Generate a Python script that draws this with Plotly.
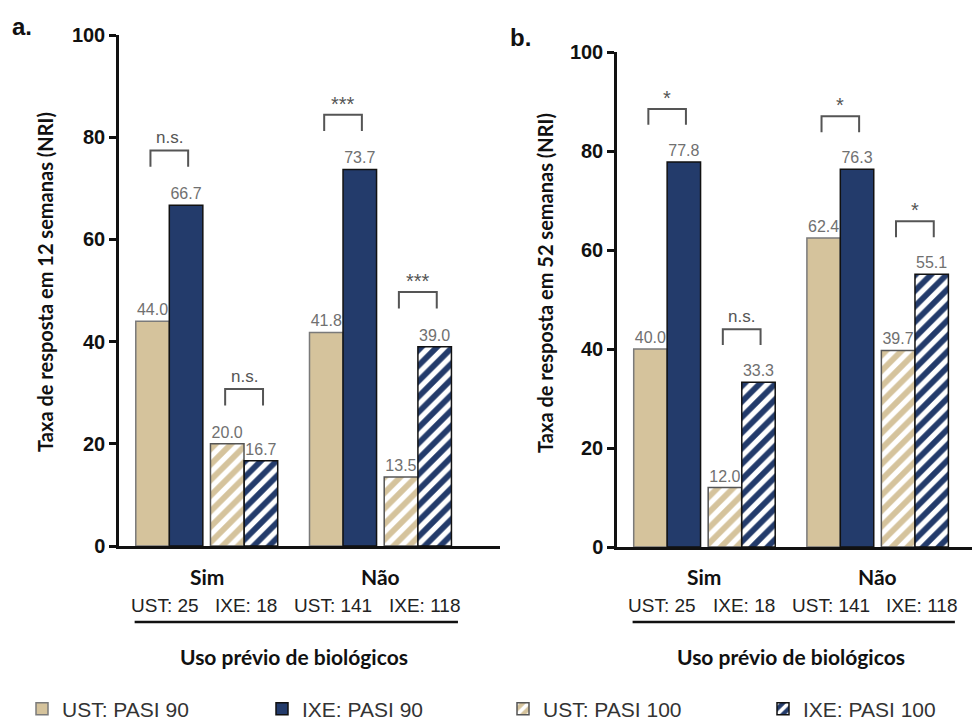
import plotly.graph_objects as go

# ---------------- data ----------------
groups = ["Sim", "Não"]
group_n = [("UST: 25", "IXE: 18"), ("UST: 141", "IXE: 118")]
series = ["UST: PASI 90", "IXE: PASI 90", "UST: PASI 100", "IXE: PASI 100"]

# panel a: 12 weeks
a_ust90 = [44.0, 41.8]
a_ixe90 = [66.7, 73.7]
a_ust100 = [20.0, 13.5]
a_ixe100 = [16.7, 39.0]
a_sig90 = ["n.s.", "***"]
a_sig100 = ["n.s.", "***"]

# panel b: 52 weeks
b_ust90 = [40.0, 62.4]
b_ixe90 = [77.8, 76.3]
b_ust100 = [12.0, 39.7]
b_ixe100 = [33.3, 55.1]
b_sig90 = ["*", "*"]
b_sig100 = ["n.s.", "*"]

y_ticks = [0, 20, 40, 60, 80, 100]

# ---------------- style ----------------
W, H = 980, 724
OFF = 8  # page body margin offset
TAN = "#D5C39C"
NAVY = "#233B6B"
VAL_COL = "#707070"
SIG_COL = "#555555"
offsets = [-0.312, -0.119, 0.118, 0.312]
bar_w = 0.193


def px(x):
    return (x - OFF) / W


def py(y):
    return 1 - (y - OFF) / H


fig = go.Figure()

pat = dict(shape="/", fgcolor="white", fgopacity=1, fillmode="overlay", size=11, solidity=0.47)
styles = [
    dict(color=TAN, line=dict(color="#7a7a7a", width=1.5)),
    dict(color=NAVY, line=dict(color="#111111", width=1.5)),
    dict(color=TAN, line=dict(color="#555555", width=1.5), pattern=pat),
    dict(color=NAVY, line=dict(color="#111111", width=1.5), pattern=pat),
]
legend_names = ["legend", "legend2", "legend3", "legend4"]

panels = [
    ("x", "y", [a_ust90, a_ixe90, a_ust100, a_ixe100], [a_sig90, a_sig100]),
    ("x2", "y2", [b_ust90, b_ixe90, b_ust100, b_ixe100], [b_sig90, b_sig100]),
]

annotations = []
shapes = []

for p, (xr, yr, vals, sigs) in enumerate(panels):
    for s in range(4):
        fig.add_trace(go.Bar(
            x=[g + offsets[s] for g in range(len(groups))],
            y=vals[s],
            width=bar_w,
            name=series[s],
            marker=styles[s],
            text=[f"{v:.1f}" for v in vals[s]],
            textposition="outside",
            textfont=dict(family="Liberation Sans, Arial", size=16, color=VAL_COL),
            constraintext="none",
            cliponaxis=False,
            xaxis=xr, yaxis=yr,
            legend=legend_names[s],
            showlegend=(p == 0),
        ))
    # significance brackets
    for k, (i0, i1) in enumerate([(0, 1), (2, 3)]):
        for g in range(len(groups)):
            top = max(vals[i0][g], vals[i1][g]) + 10.7
            xl = g + offsets[i0] - 0.012
            xh = g + offsets[i1] + 0.012
            shapes.append(dict(
                type="path", xref=xr, yref=yr,
                path=f"M {xl},{top - 3.2} L {xl},{top} L {xh},{top} L {xh},{top - 3.2}",
                line=dict(color=SIG_COL, width=2),
            ))
            is_star = sigs[k][g].startswith("*")
            annotations.append(dict(
                x=(xl + xh) / 2, y=top, xref=xr, yref=yr,
                text=sigs[k][g], showarrow=False, yanchor="bottom",
                yshift=(-2 if is_star else 1),
                font=dict(family="Liberation Sans, Arial", size=(20 if is_star else 17), color=SIG_COL),
            ))
    # category labels below axis
    for g in range(len(groups)):
        annotations.append(dict(
            x=g + 0.0, y=py(576), xref=xr, yref="paper", text=groups[g],
            showarrow=False, yanchor="middle",
            font=dict(family="Lato", size=21, color="#111111", weight="bold"),
        ))
        annotations.append(dict(
            x=g - 0.035, y=py(605), xref=xr, yref="paper",
            text=group_n[g][0], showarrow=False, yanchor="middle", xanchor="right",
            font=dict(family="Liberation Sans, Arial", size=19, color="#222222"),
        ))
        annotations.append(dict(
            x=g + 0.035, y=py(605), xref=xr, yref="paper",
            text=group_n[g][1], showarrow=False, yanchor="middle", xanchor="left",
            font=dict(family="Liberation Sans, Arial", size=19, color="#222222"),
        ))
    shapes.append(dict(type="line", xref=xr, yref="paper", x0=-0.415, x1=1.446,
                       y0=py(622), y1=py(622), line=dict(color="#111111", width=2.5)))
    annotations.append(dict(
        x=0.5, y=py(656), xref=xr, yref="paper", text="Uso prévio de biológicos",
        showarrow=False, yanchor="middle",
        font=dict(family="Lato", size=21, color="#111111", weight="bold"),
    ))

# y-axis titles
annotations.append(dict(x=px(45), y=py(282), xref="paper", yref="paper",
                        text="Taxa de resposta em 12 semanas (NRI)", textangle=-90,
                        showarrow=False, xanchor="center", yanchor="middle",
                        font=dict(family="Lato", size=20, color="#111111", weight="bold")))
annotations.append(dict(x=px(545), y=py(283), xref="paper", yref="paper",
                        text="Taxa de resposta em 52 semanas (NRI)", textangle=-90,
                        showarrow=False, xanchor="center", yanchor="middle",
                        font=dict(family="Lato", size=20, color="#111111", weight="bold")))
# panel letters
annotations.append(dict(x=px(22), y=py(27), xref="paper", yref="paper", text="a.",
                        showarrow=False, xanchor="center", yanchor="middle",
                        font=dict(family="Liberation Sans, Arial", size=24, color="#111111", weight="bold")))
annotations.append(dict(x=px(520), y=py(38), xref="paper", yref="paper", text="b.",
                        showarrow=False, xanchor="center", yanchor="middle",
                        font=dict(family="Liberation Sans, Arial", size=24, color="#111111", weight="bold")))

axis_common_y = dict(range=[0, 100], tickvals=y_ticks, showline=True, linewidth=2.5,
                     linecolor="#111111", ticks="outside", ticklen=7, tickwidth=2.5,
                     tickcolor="#111111", showgrid=False, zeroline=False,
                     tickfont=dict(family="Liberation Sans, Arial", size=20, color="#111111", weight="bold"))
axis_common_x = dict(showline=True, linewidth=2.5, linecolor="#111111", showticklabels=False,
                     ticks="", showgrid=False, zeroline=False)

legend_text_x = [62, 302, 543, 803]
legend_layout = {}
for i, ln in enumerate(legend_names):
    legend_layout[ln] = dict(
        x=px(legend_text_x[i] - 40), y=py(709), xanchor="left", yanchor="middle",
        orientation="h", bgcolor="rgba(0,0,0,0)", borderwidth=0,
        font=dict(family="Liberation Sans, Arial", size=21, color="#333333"),
    )

fig.update_layout(
    width=W, height=H,
    margin=dict(l=0, r=0, t=0, b=0, autoexpand=False),
    paper_bgcolor="white", plot_bgcolor="white",
    barmode="overlay",
    xaxis=dict(domain=[px(119), px(500)], range=[-0.505, 1.688], anchor="y", **axis_common_x),
    yaxis=dict(domain=[py(546), py(35)], anchor="x", **axis_common_y),
    xaxis2=dict(domain=[px(617), px(980)], range=[-0.505, 1.591], anchor="y2", **axis_common_x),
    yaxis2=dict(domain=[py(547), py(52)], anchor="x2", **axis_common_y),
    annotations=annotations,
    shapes=shapes,
    **legend_layout,
)

fig.write_html("out.html")
